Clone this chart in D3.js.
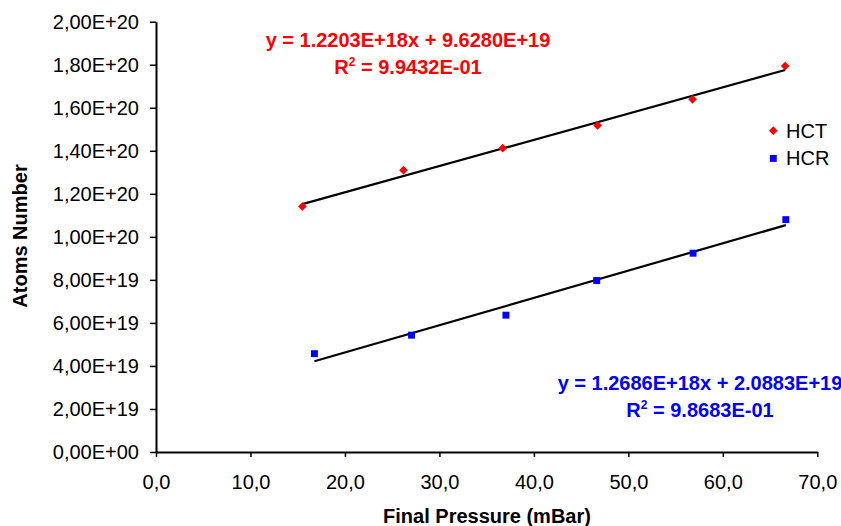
<!DOCTYPE html>
<html>
<head>
<meta charset="utf-8">
<script src="https://cdn.jsdelivr.net/npm/d3@7"></script>
<style>
  html, body { margin: 0; padding: 0; background: #fff; }
  svg { display: block; font-family: Arial, "Liberation Sans", sans-serif; }
</style>
</head>
<body>
<svg id="chart" width="841" height="526"></svg>
<script>
// Final pressure (mBar) and atom counts for the two series
const pressureHCT = [15.5, 26.2, 36.7, 46.75, 56.8, 66.6];
const atomsHCT = [1.141e20, 1.310e20, 1.412e20, 1.518e20, 1.639e20, 1.794e20];
const pressureHCR = [16.77, 27.05, 37.04, 46.65, 56.85, 66.67];
const atomsHCR = [4.57e19, 5.43e19, 6.36e19, 7.97e19, 9.24e19, 1.080e20];

// Linear fits: slope, intercept, R²
const fitHCT = [1.2203e18, 9.6280e19, "9.9432E-01"];
const fitHCR = [1.2686e18, 2.0883e19, "9.8683E-01"];
const eqHCT = "y = 1.2203E+18x + 9.6280E+19";
const eqHCR = "y = 1.2686E+18x + 2.0883E+19";

const seriesNames = ["HCT", "HCR"];
const xTicks = [0, 10, 20, 30, 40, 50, 60, 70];
const yTicks = [0, 2e19, 4e19, 6e19, 8e19, 1e20, 1.2e20, 1.4e20, 1.6e20, 1.8e20, 2e20];

const svg = d3.select("#chart");
const x = d3.scaleLinear().domain([0, 70]).range([156, 817.3]);
const y = d3.scaleLinear().domain([0, 2e20]).range([452, 21.7]);

const FS = 20;

// Number formats with decimal comma
const fmtX = v => v.toFixed(1).replace(".", ",");
const fmtY = v => {
  if (v === 0) return "0,00E+00";
  const e = Math.floor(Math.log10(v) + 1e-9);
  const m = v / Math.pow(10, e);
  return m.toFixed(2).replace(".", ",") + "E" + (e >= 0 ? "+" : "-") + String(Math.abs(e)).padStart(2, "0");
};

// Axes
const xAxis = svg.append("g").attr("transform", `translate(0,${y(0)})`)
  .call(d3.axisBottom(x).tickValues(xTicks).tickFormat(fmtX).tickSize(5).tickSizeOuter(0).tickPadding(18));
const yAxis = svg.append("g").attr("transform", `translate(${x(0)},0)`)
  .call(d3.axisLeft(y).tickValues(yTicks).tickFormat(fmtY).tickSize(6).tickSizeOuter(0).tickPadding(11));

[xAxis, yAxis].forEach(g => {
  g.select(".domain").attr("stroke", "#000").attr("stroke-width", 2);
  g.selectAll(".tick line").attr("stroke", "#000").attr("stroke-width", 1.5);
  g.selectAll(".tick text").attr("font-size", FS).attr("fill", "#000")
    .attr("font-family", "Arial, 'Liberation Sans', sans-serif");
});
xAxis.selectAll(".tick text").attr("dy", "0.71em");

// Axis titles
svg.append("text").attr("x", 487).attr("y", 523).attr("text-anchor", "middle")
  .attr("font-size", FS).attr("font-weight", "bold").text("Final Pressure (mBar)");
svg.append("text").attr("transform", "translate(27,236) rotate(-90)").attr("text-anchor", "middle")
  .attr("font-size", FS).attr("font-weight", "bold").text("Atoms Number");

// Trend lines across each series' pressure range
function trend(px, fit) {
  const [m, b] = fit;
  const x0 = d3.min(px), x1 = d3.max(px);
  svg.append("line")
    .attr("x1", x(x0)).attr("y1", y(m * x0 + b))
    .attr("x2", x(x1)).attr("y2", y(m * x1 + b))
    .attr("stroke", "#000").attr("stroke-width", 2.2);
}
trend(pressureHCT, fitHCT);
trend(pressureHCR, fitHCR);

// Markers
const diamond = d3.symbol().type(d3.symbolDiamond2).size(48);
const square = d3.symbol().type(d3.symbolSquare).size(48);
svg.append("g").selectAll("path").data(d3.zip(pressureHCT, atomsHCT)).join("path")
  .attr("d", diamond).attr("transform", d => `translate(${x(d[0])},${y(d[1])})`).attr("fill", "#ff0000");
svg.append("g").selectAll("path").data(d3.zip(pressureHCR, atomsHCR)).join("path")
  .attr("d", square).attr("transform", d => `translate(${x(d[0])},${y(d[1])})`).attr("fill", "#0000ff");

// Regression labels
function eqLabel(cx, by, color, eq, r2) {
  const g = svg.append("g").attr("fill", color).attr("font-size", FS).attr("font-weight", "bold");
  g.append("text").attr("x", cx).attr("y", by).attr("text-anchor", "middle").text(eq);
  const t = g.append("text").attr("x", cx).attr("y", by + 27.5).attr("text-anchor", "middle");
  t.append("tspan").text("R");
  t.append("tspan").attr("font-size", 12).attr("dy", -8).text("2");
  t.append("tspan").attr("dy", 8).text(" = " + r2);
}
eqLabel(408, 46.7, "#ff0000", eqHCT, fitHCT[2]);
eqLabel(700, 389.5, "#0000ff", eqHCR, fitHCR[2]);

// Legend
const legend = svg.append("g");
const legendItems = [
  { name: seriesNames[0], sym: diamond, color: "#ff0000" },
  { name: seriesNames[1], sym: square, color: "#0000ff" }
];
legendItems.forEach((it, i) => {
  const cy = 130.7 + i * 27.7;
  legend.append("path").attr("d", it.sym).attr("fill", it.color)
    .attr("transform", `translate(773.3,${cy})`);
  legend.append("text").attr("x", 786).attr("y", cy + 6.8).attr("font-size", FS)
    .attr("fill", "#000").text(it.name);
});
</script>
</body>
</html>
